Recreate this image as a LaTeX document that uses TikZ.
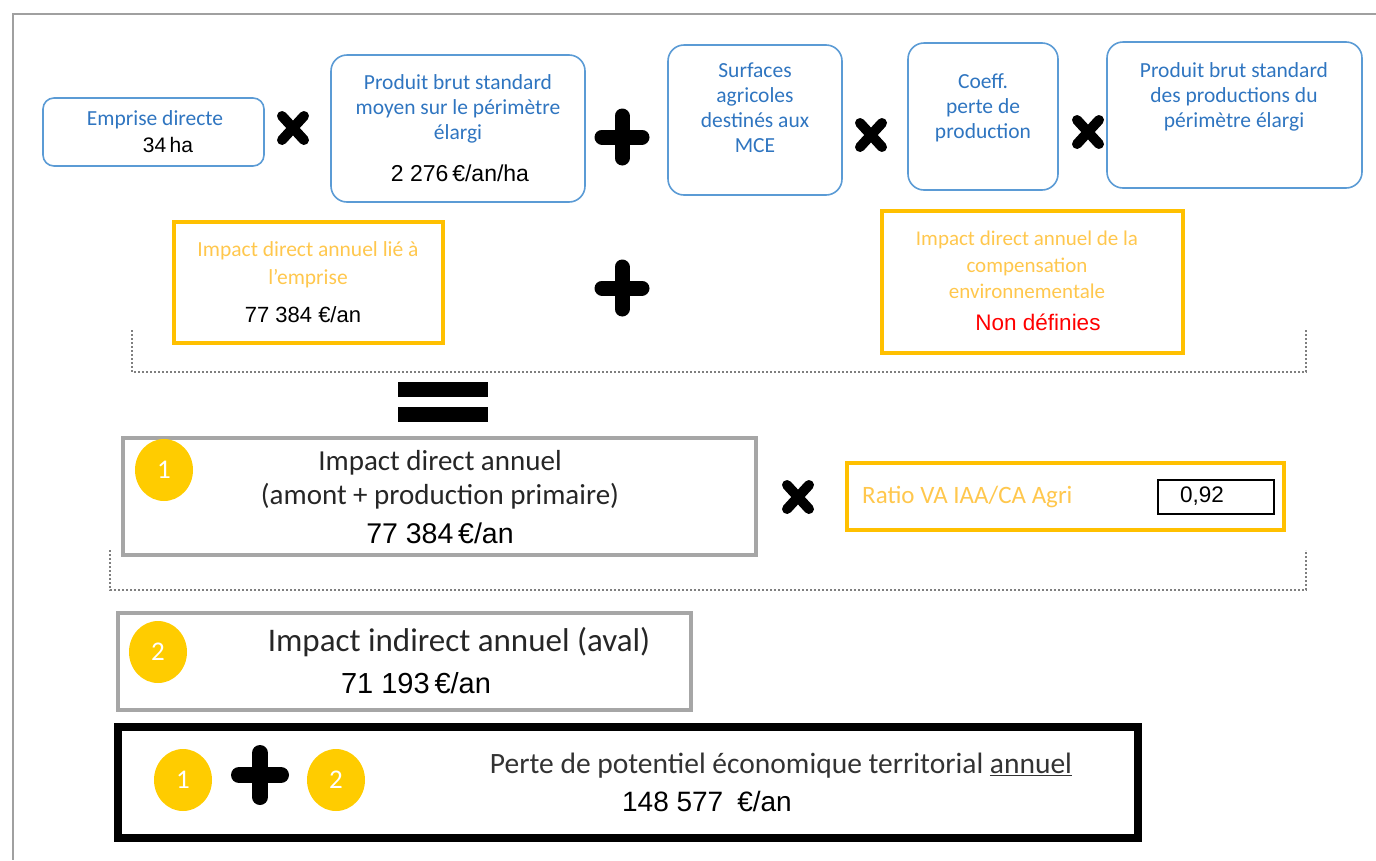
\documentclass[tikz,border=0pt]{standalone}
\usepackage{fontspec}
\setmainfont{Carlito}
\newfontfamily\numfont{Liberation Sans}
\usetikzlibrary{shapes.geometric}
\definecolor{bluetxt}{HTML}{2F75C0}
\definecolor{blueline}{HTML}{5B9BD5}
\definecolor{orangeline}{HTML}{FFC000}
\definecolor{orangetxt}{HTML}{FFC74D}
\definecolor{yellowdot}{HTML}{FFCC00}
\definecolor{greyline}{HTML}{A6A6A6}
\definecolor{frameline}{HTML}{A0A0A0}
\definecolor{dotline}{HTML}{7F7F7F}
\definecolor{redtxt}{HTML}{FF0000}
\begin{document}
\begin{tikzpicture}[x=1pt,y=-1pt,
  bluebox/.style={draw=blueline,line width=1.6,rounded corners=16,inner sep=0},
  orangebox/.style={draw=orangeline,line width=4.5,inner sep=0},
  greybox/.style={draw=greyline,line width=4,inner sep=0},
  blackbox/.style={draw=black,line width=8,inner sep=0},
  btxt/.style={text=bluetxt,font=\fontsize{21.5}{25}\selectfont,align=center,inner sep=0},
  otxt/.style={text=orangetxt,font=\fontsize{21.5}{28}\selectfont,align=center,inner sep=0},
  ntxt/.style={text=black,font=\numfont\fontsize{22}{24}\selectfont,inner sep=0},
  dot/.style={shape=ellipse,fill=yellowdot,minimum width=58,minimum height=62,inner sep=0,text=white,font=\fontsize{27}{27}\selectfont},
  plusbar/.style={line width=15,line cap=round},
  timesbar/.style={line width=10,line cap=round},
  bracket/.style={draw=dotline,line width=2,dotted}
]
\useasboundingbox (0,0) rectangle (1376,860);
% frame
\coordinate (f1) at (1376,14);
\coordinate (f2) at (13,14);
\coordinate (f3) at (13,860);
\draw[frameline,line width=2] (f1) -- (f2) -- (f3);

% ---- top row
\node[bluebox,rounded corners=11,minimum width=221,minimum height=68] (emp) at (153.5,132) {};
\node[btxt] (empt) at (155,120) {Emprise directe};
\node[ntxt,font=\numfont\fontsize{21}{24}\selectfont] (empv) at (168,145) {34\,ha};

\node[bluebox,minimum width=254,minimum height=147] (pbs) at (458,128.5) {};
\node[btxt] (pbst) at (458,109) {Produit brut standard\\moyen sur le périmètre\\élargi};
\node[ntxt,font=\numfont\fontsize{23}{24}\selectfont] (pbsv) at (460,173) {2 276\,€/an/ha};

\node[bluebox,minimum width=174,minimum height=150] (surf) at (755,120) {};
\node[btxt] (surft) at (755,108) {Surfaces\\agricoles\\destinés aux\\MCE};

\node[bluebox,minimum width=150,minimum height=147] (coef) at (983,116.5) {};
\node[btxt] (coeft) at (983,108) {Coeff.\\perte de\\production};

\node[bluebox,minimum width=255,minimum height=146] (pbs2) at (1234.5,115) {};
\node[btxt] (pbs2t) at (1234,97) {Produit brut standard\\des productions du\\périmètre élargi};

% operators top row
\coordinate (x1) at (293,128);
\draw[timesbar] ([shift={(-11,-12)}]x1) -- ([shift={(11,12)}]x1);
\draw[timesbar] ([shift={(-11,12)}]x1) -- ([shift={(11,-12)}]x1);
\coordinate (p1) at (622,137);
\draw[plusbar] ([shift={(-20,0)}]p1) -- ([shift={(20,0)}]p1);
\draw[plusbar] ([shift={(0,-21)}]p1) -- ([shift={(0,21)}]p1);
\coordinate (x2) at (871,135);
\draw[timesbar] ([shift={(-11,-12)}]x2) -- ([shift={(11,12)}]x2);
\draw[timesbar] ([shift={(-11,12)}]x2) -- ([shift={(11,-12)}]x2);
\coordinate (x3) at (1088,132);
\draw[timesbar] ([shift={(-11,-12)}]x3) -- ([shift={(11,12)}]x3);
\draw[timesbar] ([shift={(-11,12)}]x3) -- ([shift={(11,-12)}]x3);

% ---- second row
\node[orangebox,minimum width=269,minimum height=121] (imp1) at (308.5,282.5) {};
\node[otxt] (imp1t) at (308,265) {Impact direct annuel lié à\\l’emprise};
\node[ntxt] (imp1v) at (303,315) {77 384 €/an};

\coordinate (p2) at (622,288);
\draw[plusbar] ([shift={(-20,0)}]p2) -- ([shift={(20,0)}]p2);
\draw[plusbar] ([shift={(0,-21)}]p2) -- ([shift={(0,21)}]p2);

\node[orangebox,minimum width=301,minimum height=142] (imp2) at (1032.5,282) {};
\node[otxt,font=\fontsize{21}{26.5}\selectfont] (imp2t) at (1027,265) {Impact direct annuel de la\\compensation\\environnementale};
\node[text=redtxt,font=\numfont\fontsize{22.5}{24}\selectfont,inner sep=0] (imp2v) at (1038,322) {Non définies};

% bracket 1
\coordinate (b1a) at (132,330);
\coordinate (b1b) at (132,372);
\coordinate (b1c) at (1306,372);
\coordinate (b1d) at (1306,330);
\draw[bracket] (b1a) -- (b1b) -- (b1c) -- (b1d);

% equals
\node[fill=black,minimum width=90,minimum height=15,inner sep=0] (eq1) at (443,389) {};
\node[fill=black,minimum width=90,minimum height=15,inner sep=0] (eq2) at (443,414) {};

% ---- box 1
\node[greybox,minimum width=633,minimum height=117] (d1) at (439.5,496.5) {};
\node[dot] (c1) at (164,470) {1};
\node[font=\fontsize{29}{34}\selectfont,align=center,text=black!85,inner sep=0] (d1t) at (440,480) {Impact direct annuel\\(amont + production primaire)};
\node[ntxt,font=\numfont\fontsize{28.5}{30}\selectfont] (d1v) at (440,533) {77 384\,€/an};

\coordinate (x4) at (798,497);
\draw[timesbar] ([shift={(-11,-12)}]x4) -- ([shift={(11,12)}]x4);
\draw[timesbar] ([shift={(-11,12)}]x4) -- ([shift={(11,-12)}]x4);

\node[orangebox,line width=3.5,minimum width=437,minimum height=67] (ratio) at (1065.5,496.5) {};
\node[text=orangetxt,font=\fontsize{25}{28}\selectfont,anchor=west,inner sep=0] (ratiot) at (862,497) {Ratio VA IAA/CA Agri};
\node[draw=black,line width=1.5,minimum width=116,minimum height=34,inner sep=0] (rbox) at (1216,497) {};
\node[ntxt,font=\numfont\fontsize{22.5}{24}\selectfont] (rval) at (1202,496) {0,92};

% bracket 2
\coordinate (b2a) at (110,550);
\coordinate (b2b) at (110,590);
\coordinate (b2c) at (1306,590);
\coordinate (b2d) at (1306,550);
\draw[bracket] (b2a) -- (b2b) -- (b2c) -- (b2d);

% ---- box 2
\node[greybox,minimum width=573,minimum height=97] (d2) at (404.5,661.5) {};
\node[dot] (c2) at (158,652) {2};
\node[font=\fontsize{33}{35}\selectfont,text=black!85,inner sep=0] (d2t) at (459,642) {Impact indirect annuel (aval)};
\node[ntxt,font=\numfont\fontsize{29}{30}\selectfont] (d2v) at (416,683) {71 193\,€/an};

% ---- total box
\node[blackbox,minimum width=1020,minimum height=111] (tot) at (628,782.5) {};
\node[dot] (c3) at (183,780) {1};
\coordinate (p3) at (260,775);
\draw[plusbar,line width=16] ([shift={(-21,0)}]p3) -- ([shift={(21,0)}]p3);
\draw[plusbar,line width=16] ([shift={(0,-22)}]p3) -- ([shift={(0,22)}]p3);
\node[dot] (c4) at (336,780) {2};
\node[font=\fontsize{29.5}{32}\selectfont,text=black!80,inner sep=0] (tott) at (781,766) {Perte de potentiel économique territorial \underline{annuel}};
\node[ntxt,font=\numfont\fontsize{28}{30}\selectfont] (totv) at (707,801) {148 577\enspace€/an};
\end{tikzpicture}
\end{document}
